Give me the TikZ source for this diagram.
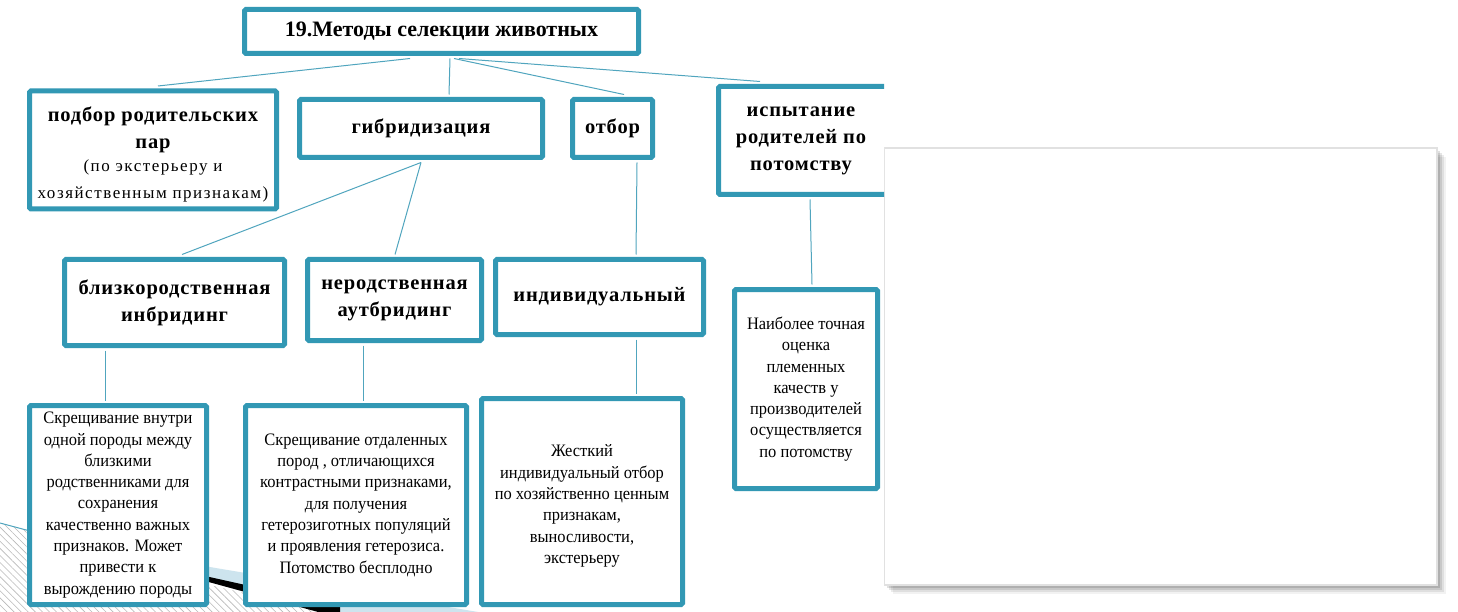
\documentclass[tikz,border=0pt]{standalone}
\usepackage{fontspec}
\setmainfont{Liberation Serif}
\newfontfamily\hfont[LetterSpace=4]{Liberation Serif}
\newfontfamily\sfont[LetterSpace=9]{Liberation Serif}
\newfontfamily\bfont[FakeStretch=0.94]{Liberation Serif}
\newcommand\smf{\sfont\mdseries\fontsize{17}{23}\selectfont}
\usetikzlibrary{patterns.meta,calc}
\definecolor{boxc}{RGB}{50,152,180}
\definecolor{linec}{RGB}{80,165,190}
\definecolor{lblue}{RGB}{205,228,238}
\definecolor{panelb}{RGB}{225,225,225}
\tikzset{
  bx/.style={draw=boxc, line width=5pt, fill=white, rounded corners=1.5pt, align=center, inner sep=1pt},
  hd/.style={font=\hfont\bfseries\fontsize{20.5}{27}\selectfont},
  ttl/.style={font=\bfseries\fontsize{22}{24}\selectfont},
  bd/.style={font=\bfont\fontsize{17.5}{21.3}\selectfont},
  ln/.style={draw=linec, line width=1pt},
}
\begin{document}
\begin{tikzpicture}[x=1pt,y=-1pt]
\useasboundingbox (0,0) rectangle (1458,612);
\fill[white] (0,0) rectangle (1458,612);
% right panel with shadow
\foreach \d/\o in {9/0.05,7/0.08,5/0.10,3/0.12}{
  \fill[black,opacity=\o] (884+\d,148+\d) rectangle (1437+\d,585+\d);
}
\fill[white] (884,148) rectangle (1437,585);
\draw[panelb,line width=1.5pt] (884,148) rectangle (1437,585);
% left gray band
\fill[black,opacity=0.12] (0,577) rectangle (30,598);
\begin{scope}
\clip (0,0) rectangle (884,612);
\fill[white] (0,0) rectangle (884,612);
% decoration
\fill[pattern={Lines[angle=-45,distance=5pt,line width=0.6pt]}, pattern color=gray!55] (0,523) -- (30,531) -- (210,585) -- (340,615) -- (0,615) -- cycle;
\fill[lblue] (180,562) -- (490,614) -- (340,614) -- (205,576) -- cycle;
\fill[black] (205,576) -- (340,606) -- (340,618) -- (205,581) -- cycle;
\draw[ln] (0,523) -- (30,531);
% nodes
\node[bx,ttl,minimum width=394pt,minimum height=44pt] (T) at (441.5,31.5) {19.Методы селекции животных};
\node[bx,hd,minimum width=247pt,minimum height=118pt] (A) at (153,150) {};
\node[hd,align=center] (At) at (153,154)
  {подбор родительских\\пар\\[-4pt]\smf (по экстерьеру и\\\smf хозяйственным признакам)};
\node[bx,hd,minimum width=243pt,minimum height=58pt] (B) at (421,128.5) {гибридизация};
\node[bx,hd,minimum width=80pt,minimum height=58pt] (C) at (612.5,128.5) {отбор};
\node[bx,hd,minimum width=171pt,minimum height=108pt] (D) at (804,140.5) {};
\node[hd,align=center] (Dt) at (801,140.5) {испытание\\родителей по\\потомству};
\node[bx,hd,minimum width=220pt,minimum height=86pt] (E) at (174.5,302.5) {близкородственная\\инбридинг};
\node[bx,hd,minimum width=174pt,minimum height=81pt] (F) at (394.5,300) {неродственная\\аутбридинг};
\node[bx,hd,minimum width=208pt,minimum height=75pt] (G) at (599.5,297) {индивидуальный};
\node[bx,bd,minimum width=143pt,minimum height=199pt] (H) at (806,389) {Наиболее точная\\оценка\\племенных\\качеств у\\производителей\\осуществляется\\по потомству};
\node[bx,bd,minimum width=177pt,minimum height=199pt] (I) at (118,505) {Скрещивание внутри\\одной породы между\\близкими\\родственниками для\\сохранения\\качественно важных\\признаков. Может\\привести к\\вырождению породы};
\node[bx,bd,minimum width=221pt,minimum height=199pt] (J) at (356,505) {Скрещивание отдаленных\\пород , отличающихся\\контрастными признаками,\\для получения\\гетерозиготных популяций\\и проявления гетерозиса.\\Потомство бесплодно};
\node[bx,minimum width=201pt,minimum height=206pt] (K) at (582,501.5) {};
\node[bd,align=center] (Kt) at (582,506) {Жесткий\\индивидуальный отбор\\по хозяйственно ценным\\признакам,\\выносливости,\\экстерьеру};
% connectors
\draw[ln] ([xshift=-31.5pt,yshift=-2.5pt]T.south) -- ([xshift=5pt,yshift=2.5pt]A.north);
\draw[ln] ([xshift=8.5pt,yshift=-2.5pt]T.south) -- ([xshift=28pt,yshift=2.5pt]B.north);
\draw[ln] ([xshift=12.5pt,yshift=-2.5pt]T.south) -- ([xshift=11.5pt,yshift=2.5pt]C.north);
\draw[ln] ([xshift=17.5pt,yshift=-2.5pt]T.south) -- ([xshift=-44pt,yshift=2.5pt]D.north);
\draw[ln] ([yshift=-2.5pt]B.south) -- ([xshift=7.5pt,yshift=2.5pt]E.north);
\draw[ln] ([yshift=-2.5pt]B.south) -- ([xshift=0.5pt,yshift=2.5pt]F.north);
\draw[ln] ([xshift=24.5pt,yshift=-2.5pt]C.south) -- ([xshift=36.5pt,yshift=2.5pt]G.north);
\draw[ln] ([xshift=6pt,yshift=-2.5pt]D.south) -- ([xshift=6pt,yshift=2.5pt]H.north);
\draw[ln] ([xshift=-69.5pt,yshift=-2.5pt]E.south) -- ([xshift=-13pt,yshift=2.5pt]I.north);
\draw[ln] ([xshift=-31.5pt,yshift=-2.5pt]F.south) -- ([xshift=7pt,yshift=2.5pt]J.north);
\draw[ln] ([xshift=36.5pt,yshift=-2.5pt]G.south) -- ([xshift=54pt,yshift=2.5pt]K.north);
\end{scope}
\end{tikzpicture}
\end{document}
